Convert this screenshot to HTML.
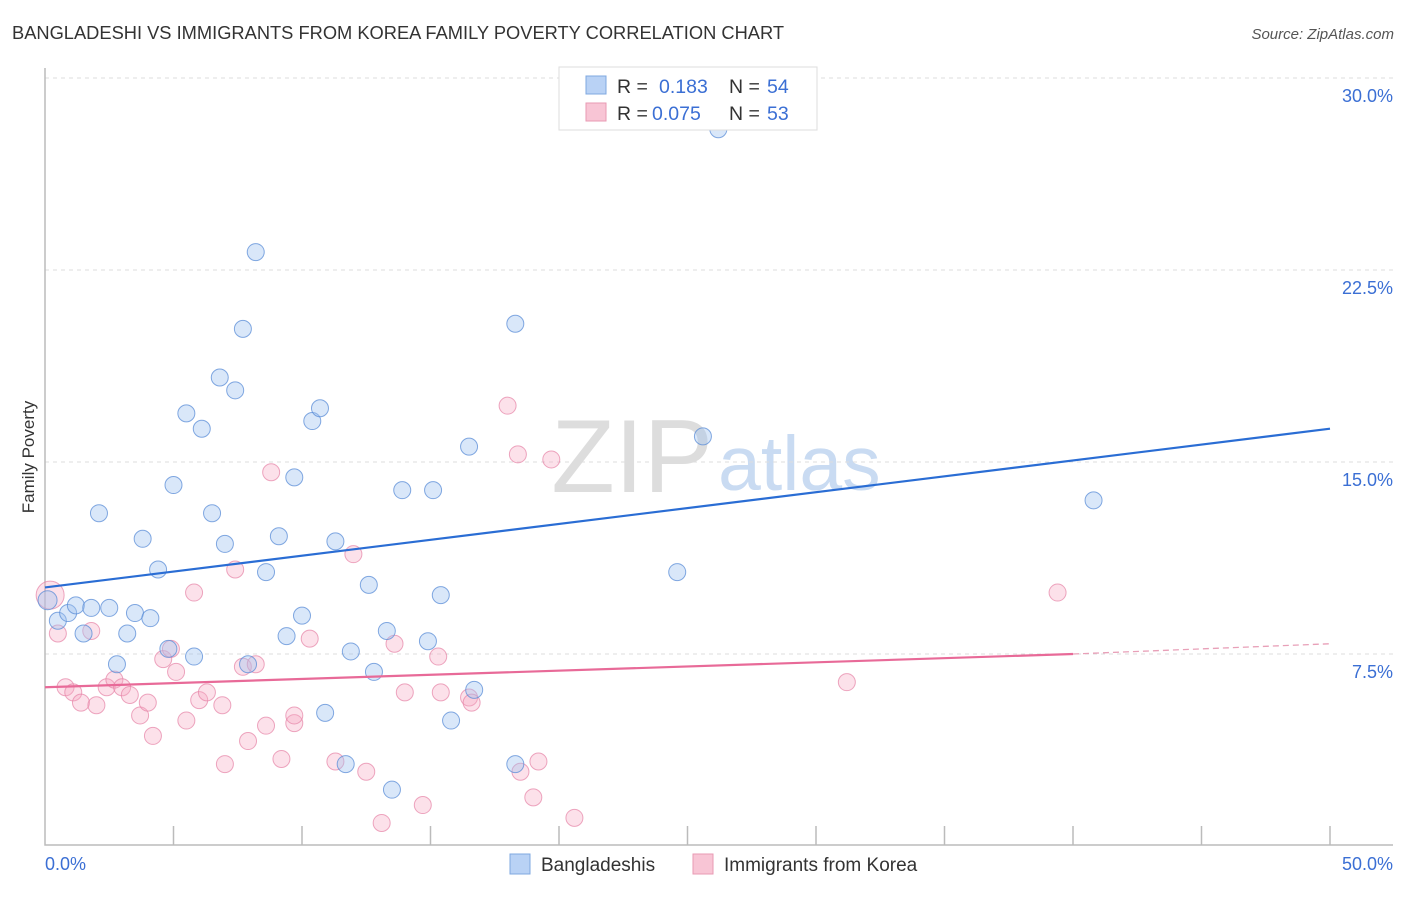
<!DOCTYPE html>
<html><head><meta charset="utf-8"><style>
body{margin:0;background:#fff;font-family:"Liberation Sans",sans-serif}
svg text{font-family:"Liberation Sans",sans-serif}
</style></head><body>
<svg width="1406" height="892" xmlns="http://www.w3.org/2000/svg">
<text x="12" y="39" font-size="18.3" fill="#333">BANGLADESHI VS IMMIGRANTS FROM KOREA FAMILY POVERTY CORRELATION CHART</text>
<text x="1394" y="39" font-size="15" fill="#555" font-style="italic" text-anchor="end">Source: ZipAtlas.com</text>
<text x="713" y="492" font-size="104" fill="#ddd" font-family="Liberation Serif" text-anchor="end">ZIP</text>
<text x="718" y="490" font-size="77" fill="#c9dbf2">atlas</text>
<g id="grid"></g>
<g id="axes"></g>
<g id="pts"></g>
<g id="trends"></g>
<text transform="translate(34,457) rotate(-90)" font-size="17" fill="#333" text-anchor="middle">Family Poverty</text>
<text x="45" y="870" font-size="18" fill="#3b6fd4">0.0%</text>
<text x="1393" y="870" font-size="18" fill="#3b6fd4" text-anchor="end">50.0%</text>
<g>
<rect x="559" y="67" width="258" height="63" fill="#fff" stroke="#ddd"/>
<rect x="586" y="76" width="20" height="18" fill="#b9d2f5" stroke="#7fa8e0"/>
<text x="617" y="93" font-size="19.5" fill="#333">R = </text><text x="659" y="93" font-size="19.5" fill="#3b6fd4">0.183</text>
<text x="729" y="93" font-size="19.5" fill="#333">N = </text><text x="767" y="93" font-size="19.5" fill="#3b6fd4">54</text>
<rect x="586" y="103" width="20" height="18" fill="#f8c5d5" stroke="#e89ab3"/>
<text x="617" y="120" font-size="19.5" fill="#333">R = </text><text x="652" y="120" font-size="19.5" fill="#3b6fd4">0.075</text>
<text x="729" y="120" font-size="19.5" fill="#333">N = </text><text x="767" y="120" font-size="19.5" fill="#3b6fd4">53</text>
</g>
<g>
<rect x="510" y="854" width="20" height="20" fill="#b9d2f5" stroke="#7fa8e0"/>
<text x="541" y="871" font-size="19" fill="#333">Bangladeshis</text></g>
<g>
<rect x="693" y="854" width="20" height="20" fill="#f8c5d5" stroke="#e89ab3"/>
<text x="724" y="871" font-size="19" fill="#333">Immigrants from Korea</text></g>
</svg>
<script>
const yTicks=[7.5,15,22.5,30];
const yTickLabels=["7.5%","15.0%","22.5%","30.0%"];
const blueX=[0.1,0.5,0.9,1.2,1.5,1.8,2.1,2.5,2.8,3.2,3.5,3.8,4.1,4.4,4.8,5.0,5.5,5.8,6.1,6.5,6.8,7.0,7.4,7.7,7.9,8.2,8.6,9.1,9.4,9.7,10.0,10.4,10.7,10.9,11.3,11.7,11.9,12.6,12.8,13.3,13.5,13.9,14.9,15.1,15.4,15.8,16.5,16.7,18.3,18.3,24.6,25.6,26.2,40.8];
const blueY=[9.6,8.8,9.1,9.4,8.3,9.3,13.0,9.3,7.1,8.3,9.1,12.0,8.9,10.8,7.7,14.1,16.9,7.4,16.3,13.0,18.3,11.8,17.8,20.2,7.1,23.2,10.7,12.1,8.2,14.4,9.0,16.6,17.1,5.2,11.9,3.2,7.6,10.2,6.8,8.4,2.2,13.9,8.0,13.9,9.8,4.9,15.6,6.1,20.4,3.2,10.7,16.0,28.0,13.5];
const pinkX=[0.2,0.5,0.8,1.1,1.4,1.8,2.0,2.4,2.7,3.0,3.3,3.7,4.0,4.2,4.6,4.9,5.1,5.5,5.8,6.0,6.3,6.9,7.0,7.4,7.9,7.7,8.2,8.6,8.8,9.2,9.7,9.7,10.3,11.3,12.0,12.5,13.1,13.6,14.0,14.7,15.3,15.4,16.5,16.6,18.0,18.4,18.5,19.0,19.2,19.7,20.6,31.2,39.4];
const pinkY=[9.8,8.3,6.2,6.0,5.6,8.4,5.5,6.2,6.5,6.2,5.9,5.1,5.6,4.3,7.3,7.7,6.8,4.9,9.9,5.7,6.0,5.5,3.2,10.8,4.1,7.0,7.1,4.7,14.6,3.4,4.8,5.1,8.1,3.3,11.4,2.9,0.9,7.9,6.0,1.6,7.4,6.0,5.8,5.6,17.2,15.3,2.9,1.9,3.3,15.1,1.1,6.4,9.9];
const blueTrend=[0,10.1,50,16.3];
const pinkTrend=[0,6.2,40,7.5,50,7.9];
const NS="http://www.w3.org/2000/svg";
const X=v=>45+v/50*1285, Y=v=>846-v*25.6;
function mk(t,a,p){const e=document.createElementNS(NS,t);for(const k in a)e.setAttribute(k,a[k]);p.appendChild(e);return e;}
const grid=document.getElementById('grid'),axes=document.getElementById('axes'),pts=document.getElementById('pts'),tr=document.getElementById('trends');
yTicks.forEach((t,i)=>{
 const l=mk('line',{x1:45,x2:1393,y1:Y(t),y2:Y(t),stroke:'#ddd','stroke-dasharray':'4,4'},grid);
 
 
 const tx=mk('text',{x:1393,y:Y(t)+24,'font-size':18,fill:'#3b6fd4','text-anchor':'end'},grid);
 tx.textContent=yTickLabels[i];
 
 
});
const ax=mk('path',{d:'M45,68 V845 H1393',fill:'none',stroke:'#bbb','stroke-width':1.5},axes);


for(let i=1;i<=10;i++){const t=mk('line',{x1:X(i*5),x2:X(i*5),y1:826,y2:845,stroke:'#bbb','stroke-width':1.5},axes);
 
 }
pinkX.forEach((x,i)=>{const c=mk('circle',{cx:X(x),cy:Y(pinkY[i]),r:i==0?14:8.5,fill:'rgba(245,170,195,0.35)',stroke:'rgba(230,130,165,0.7)','stroke-width':1},pts);
 
 });
blueX.forEach((x,i)=>{const c=mk('circle',{cx:X(x),cy:Y(blueY[i]),r:i==0?9.5:8.5,fill:'rgba(160,195,240,0.4)',stroke:'rgba(90,140,215,0.75)','stroke-width':1},pts);
 
 });
const bl=mk('line',{x1:X(blueTrend[0]),y1:Y(blueTrend[1]),x2:X(blueTrend[2]),y2:Y(blueTrend[3]),stroke:'#2a6dd4','stroke-width':2.2},tr);


const pl=mk('line',{x1:X(pinkTrend[0]),y1:Y(pinkTrend[1]),x2:X(pinkTrend[2]),y2:Y(pinkTrend[3]),stroke:'#e86a98','stroke-width':2.2},tr);


const pd=mk('line',{x1:X(pinkTrend[2]),y1:Y(pinkTrend[3]),x2:X(pinkTrend[4]),y2:Y(pinkTrend[5]),stroke:'#e8a0b8','stroke-width':1.3,'stroke-dasharray':'6,4'},tr);


</script>
</body></html>
